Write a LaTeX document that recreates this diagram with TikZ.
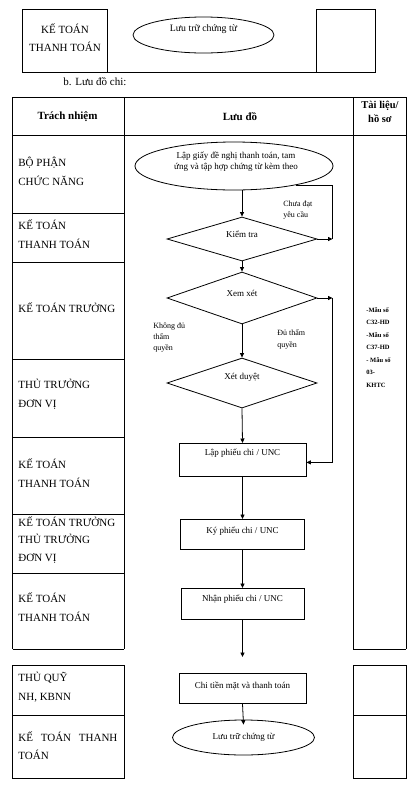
\documentclass[tikz,border=0pt]{standalone}
\usepackage{fontspec}
\setmainfont{Liberation Serif}
\usetikzlibrary{shapes.geometric,arrows.meta}
\begin{document}
\begin{tikzpicture}[x=1pt,y=-1pt, line width=0.8pt,
  arr/.style={-{Triangle[length=4.5pt,width=4pt]}},
  cell/.style={font=\fontsize{11}{19}\selectfont, align=left, anchor=west, inner sep=0pt},
  head/.style={font=\bfseries\fontsize{11}{14}\selectfont, align=center, inner sep=0pt},
  flowbox/.style={draw, rectangle, inner sep=0pt, anchor=north, font=\fontsize{9}{11}\selectfont},
  flowell/.style={draw, ellipse, inner sep=0pt, font=\fontsize{9}{11}\selectfont},
  flowdia/.style={draw, diamond, aspect=3, inner sep=0pt, minimum width=150pt, font=\fontsize{9}{11}\selectfont},
  note/.style={font=\fontsize{8}{11}\selectfont, align=left, anchor=west, inner sep=0pt}
]
\useasboundingbox[fill=white] (0,0) rectangle (418,785);

% ---------- top fragment ----------
\draw (22.7,9.3) rectangle (107,72.7);
\draw (316,9.3) rectangle (375,72.7);
\draw (107,72.7) -- (316,72.7);
\node[font=\fontsize{11}{18}\selectfont, align=center, inner sep=0pt] (kt0) at (65,38) {KẾ TOÁN\\THANH TOÁN};
\node[flowell, font=\fontsize{9.8}{12}\selectfont, minimum width=141pt, minimum height=36pt, text height=6pt, text depth=12.4pt] (e0) at (203.5,35) {Lưu trữ chứng từ};
\node[font=\fontsize{11}{13}\selectfont, anchor=west, inner sep=0pt] (bh) at (63,82) {b. Lưu đồ chi:};

% ---------- main table ----------
\draw (12.7,97) -- (406,97);
\draw (12.7,135) -- (406,135);
\foreach \x in {12.7,124,353,406} \draw (\x,97) -- (\x,649);
\foreach \y in {213,262,359,437,514,573,649} \draw (12.7,\y) -- (124,\y);
\draw (353,649) -- (406,649);

\node[head] (h1) at (67.5,117) {Trách nhiệm};
\node[head] (h2) at (240,117) {Lưu đồ};
\node[head, font=\bfseries\fontsize{10.5}{14}\selectfont] (h3) at (380,112) {Tài liệu/\\hồ sơ};

\node[cell] (r1) at (18,171.5) {BỘ PHẬN\\CHỨC NĂNG};
\node[cell] (r2) at (18,234.5) {KẾ TOÁN\\THANH TOÁN};
\node[cell] (r3) at (18,308) {KẾ TOÁN TRƯỞNG};
\node[cell] (r4) at (18,394) {THỦ TRƯỞNG\\ĐƠN VỊ};
\node[cell] (r5) at (18,473) {KẾ TOÁN\\THANH TOÁN};
\node[cell, font=\fontsize{11}{17.5}\selectfont] (r6) at (18,540) {KẾ TOÁN TRƯỞNG\\THỦ TRƯỞNG\\ĐƠN VỊ};
\node[cell] (r7) at (18,607.5) {KẾ TOÁN\\THANH TOÁN};

\node[font=\bfseries\fontsize{6.5}{12.5}\selectfont, align=left, anchor=west, inner sep=0pt] (tl) at (366,347.5)
  {-Mẫu số\\C32-HD\\-Mẫu số\\C37-HD\\- Mẫu số\\03-\\KHTC};

% ---------- second table ----------
\draw (12.7,665) rectangle (124,715);
\draw (12.7,715) rectangle (124,778);
\draw (353,665) rectangle (406,715);
\draw (353,715) rectangle (406,778);
\node[cell] (r8) at (18,687.5) {THỦ QUỸ\\NH, KBNN};
\node[cell, font=\fontsize{11}{18}\selectfont] (r9) at (18,746) {\makebox[99pt][s]{KẾ TOÁN THANH}\\TOÁN};

% ---------- flowchart ----------
\node[flowell, minimum width=198pt, minimum height=48pt] (e1) at (234,166) {};
\node[font=\fontsize{9}{11}\selectfont, align=center, inner sep=0pt] (e1t) at (236,161.5)
  {Lập giấy đề nghị thanh toán, tam\\ứng và tập hợp chứng từ kèm theo};

\node[flowdia, minimum height=44pt, text height=6pt, text depth=8.4pt] (d1) at (242,239) {Kiểm tra};
\node[flowdia, minimum height=52pt, text height=6pt, text depth=8.4pt] (d2) at (242,298) {Xem xét};
\node[flowdia, minimum height=50pt, text height=6pt, text depth=12.4pt] (d3) at (242,383) {Xét duyệt};

\node[flowbox, minimum width=127pt, minimum height=33pt, text height=11.8pt, text depth=21.2pt] (b1) at (242.5,443) {Lập phiếu chi / UNC};
\node[flowbox, minimum width=124pt, minimum height=30pt, text height=13.8pt, text depth=16.2pt] (b2) at (242.5,519) {Ký phiếu chi / UNC};
\node[flowbox, minimum width=123pt, minimum height=31pt, text height=12.8pt, text depth=18.2pt] (b3) at (242.5,588) {Nhận phiếu chi / UNC};
\node[flowbox, minimum width=127pt, minimum height=30pt, text height=14.8pt, text depth=15.2pt] (b4) at (242.5,673) {Chi tiền mặt và thanh toán};
\node[flowell, minimum width=142pt, minimum height=35pt, text height=8pt, text depth=3.4pt] (e2) at (243.5,737.5) {Lưu trữ chứng từ};

\node[note] (n1) at (283,210.5) {Chưa đạt\\yêu cầu};
\node[note] (n2) at (153,338) {Không đủ\\thẩm\\quyền};
\node[note, font=\fontsize{8}{12}\selectfont] (n3) at (277,339) {Đủ thẩm\\quyền};

\coordinate (fb1) at (332.5,239);
\coordinate (fb2) at (332.5,298);
\coordinate (gap) at (242.5,657);

\draw[arr] (e1.south -| d1.north) -- (d1.north);
\draw (e1.-17) -- (e1.-17 -| fb1) -- (fb1);
\draw[arr] (d1.east) -- (fb1);
\draw[arr] (d1.south) -- (d2.north);
\draw[arr] (d2.south) -- (d3.north);
\draw[arr] (d2.east) -- (fb2);
\draw[arr] (fb2) |- ([yshift=-2.5pt]b1.east);
\draw[arr] (d3.south) -- (b1.north);
\draw[arr] (b1.south) -- (b2.north);
\draw[arr] (b2.south) -- (b3.north);
\draw[arr] (b3.south) -- (gap);
\draw[arr] (b4.south) -- ([yshift=-5pt]e2.north);
\end{tikzpicture}
\end{document}
